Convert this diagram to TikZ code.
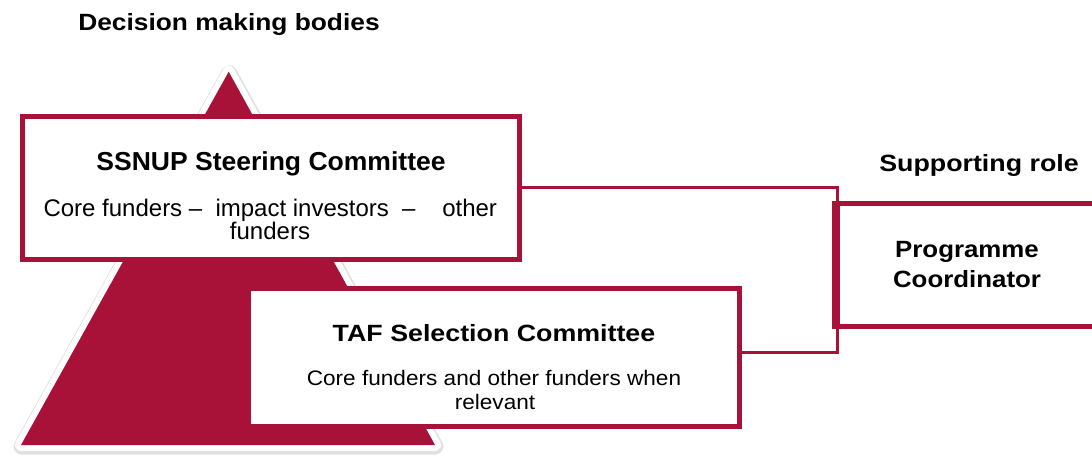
\documentclass[tikz,border=0pt]{standalone}
\usepackage{fontspec}
\setmainfont{Liberation Sans}
\usepackage{graphicx}
\definecolor{ssred}{RGB}{168,18,56}
\newcommand\hsx[2]{\scalebox{#1}[1]{#2}}
\begin{document}
\begin{tikzpicture}[x=1pt,y=-1pt,
  box/.style={draw=ssred, line width=5pt, fill=white, inner sep=0pt},
  link/.style={draw=ssred, line width=3pt},
  txt/.style={anchor=base, inner sep=0pt, text=black},
  boldA/.style={txt, font=\fontsize{23.5}{28}\selectfont\bfseries},
  boldB/.style={txt, font=\fontsize{26}{30}\selectfont\bfseries},
  regA/.style={txt, font=\fontsize{24}{28}\selectfont},
  regB/.style={txt, font=\fontsize{21}{26}\selectfont}]
\useasboundingbox (0,0) rectangle (1092,456);
\clip (0,0) rectangle (1092,456);
% pyramid with halo
\coordinate (apex) at (228.7,71.7);
\coordinate (bl) at (21,445);
\coordinate (br) at (435,445);
\draw[black!12, line width=16pt, line join=round] ([shift={(0.5,1.5)}]apex) -- ([shift={(0.5,1.5)}]bl) -- ([shift={(0.5,1.5)}]br) -- cycle;
\draw[white, line width=12pt, line join=round, fill=white] (apex) -- (bl) -- (br) -- cycle;
\fill[ssred] (apex) -- (bl) -- (br) -- cycle;
% boxes
\node[box, minimum width=497.5pt, minimum height=143.5pt] (ssnup) at (270.75,187.75) {};
\node[box, minimum width=491pt, minimum height=138pt] (taf) at (494,357) {};
\node[box, minimum width=260pt, minimum height=123pt] (prog) at (967,264.5) {};
% connectors
\coordinate (j1) at (837,187.75);
\coordinate (j2) at (837,352.7);
\draw[link] (ssnup.east) -- (j1) -- (j2) -- (taf.east |- j2);
\draw[ssred, line width=5pt] (prog.north west) -- (prog.south west);
% texts
\node[boldA] (hdec) at (229,30) {\hsx{1.12}{Decision making bodies}};
\node[boldA] (hsup) at (979,171.5) {\hsx{1.14}{Supporting role}};
\node[boldB] (sst) at (271,170) {\hsx{1.02}{SSNUP Steering Committee}};
\node[regA] (ss1) at (270.3,216.7) {Core funders \textendash\hspace{13.3pt}impact investors\hspace{13.3pt}\textendash\hspace{26.7pt}other};
\node[regA] (ss2) at (270,239) {funders};
\node[boldA] (tt) at (494,341.7) {\hsx{1.14}{TAF Selection Committee}};
\node[regB] (t1) at (494,385) {\hsx{1.076}{Core funders and other funders when}};
\node[regB] (t2) at (495,409.3) {\hsx{1.076}{relevant}};
\node[boldA] (p1) at (967,257.3) {\hsx{1.1}{Programme}};
\node[boldA] (p2) at (967,287.3) {\hsx{1.1}{Coordinator}};
\end{tikzpicture}
\end{document}
